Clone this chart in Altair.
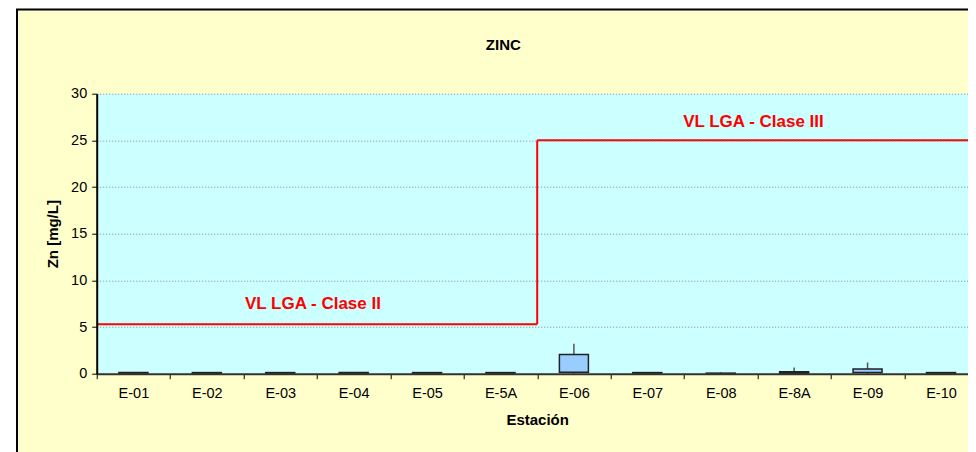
import altair as alt
import pandas as pd

# ---- data ----
stations = ["E-01", "E-02", "E-03", "E-04", "E-05", "E-5A",
            "E-06", "E-07", "E-08", "E-8A", "E-09", "E-10"]
w_min = [0.0, 0.0, 0.0, 0.0, 0.0, 0.0, 0.0, 0.0, 0.0, 0.0, 0.0, 0.0]
q1 = [0.0, 0.0, 0.0, 0.0, 0.0, 0.0, 0.15, 0.0, 0.0, 0.05, 0.12, 0.0]
q3 = [0.12, 0.12, 0.12, 0.12, 0.12, 0.12, 2.05, 0.12, 0.06, 0.22, 0.5, 0.12]
w_max = [0.12, 0.12, 0.12, 0.12, 0.12, 0.12, 3.2, 0.12, 0.14, 0.65, 1.2, 0.12]

# limit (step) line segments
seg_x_start = ["E-01", "E-06", "E-06"]
seg_x_end = ["E-5A", "E-5A", "E-10"]
seg_y_start = [5.3, 5.3, 25.0]
seg_y_end = [5.3, 25.0, 25.0]

label_text = ["VL LGA - Clase II", "VL LGA - Clase III"]
label_station = ["E-04", "E-8A"]
label_y = [7.5, 27.0]

y_ticks = [0, 5, 10, 15, 20, 25, 30]

box_df = pd.DataFrame({"station": stations, "lo": w_min, "q1": q1, "q3": q3, "hi": w_max})
seg_df = pd.DataFrame({"xs": seg_x_start, "xe": seg_x_end, "ys": seg_y_start, "ye": seg_y_end})
lab_df = pd.DataFrame({"text": label_text, "station": label_station, "y": label_y})

FONT = "Liberation Sans"
PAD_L, PAD_T, PAD_B = 88.7, 85.7, 78
W, H = 871.3, 280          # visible plot box (the last band runs past the page edge)
RANGE_W = 881              # full extent of the 12 category bands

xscale = alt.Scale(domain=stations, paddingInner=0, paddingOuter=0, range=[0, RANGE_W])
yscale = alt.Scale(domain=[0, 30], nice=False)

x_axis = alt.Axis(title="Estación", tickBand="extent", labelAngle=0, labelFontSize=14.5,
                  labelColor="#000", titleFontSize=15, titleFontWeight="bold", titleColor="#000",
                  tickSize=5, tickColor="#000", domainColor="#333", domainWidth=2,
                  labelPadding=8, titlePadding=12, grid=False, zindex=1)
y_axis = alt.Axis(title="Zn [mg/L]", values=y_ticks, labelFontSize=14.5, labelColor="#000",
                  titleFontSize=15, titleFontWeight="bold", titleColor="#000",
                  tickSize=5, tickColor="#000", domainColor="#000", domainWidth=2,
                  labelPadding=5, titlePadding=10, grid=True, gridColor="#888",
                  gridDash=[1, 2], gridWidth=1, zindex=1)

one = alt.Data(values=[{}])

frame = alt.Chart(one).mark_rect(fill="#FFFFCC", stroke="#000", strokeWidth=2, clip=False).encode(
    x=alt.value(-79.7), x2=alt.value(RANGE_W + 40), y=alt.value(-84.2), y2=alt.value(H + 120))
plot_bg = alt.Chart(one).mark_rect(fill="#CCFFFF", clip=False).encode(
    x=alt.value(0), x2=alt.value(RANGE_W), y=alt.value(0), y2=alt.value(H))

whisk = alt.Chart(box_df).mark_rule(color="#555", strokeWidth=1.5).encode(
    x=alt.X("station:N", scale=xscale, axis=x_axis, sort=stations),
    y=alt.Y("lo:Q", scale=yscale, axis=y_axis),
    y2="hi:Q")
boxes = alt.Chart(box_df).mark_bar(size=29, fill="#99CCFF", stroke="#222", strokeWidth=1.5).encode(
    x=alt.X("station:N", scale=xscale, axis=x_axis, sort=stations),
    y=alt.Y("q1:Q", scale=yscale, axis=y_axis),
    y2="q3:Q")
limits = alt.Chart(seg_df).mark_rule(color="#FF0000", strokeWidth=2, clip=False).encode(
    x=alt.X("xs:N", scale=xscale, axis=x_axis, bandPosition=0),
    x2=alt.X2("xe", bandPosition=1),
    y=alt.Y("ys:Q", scale=yscale, axis=y_axis),
    y2="ye:Q")
labels = alt.Chart(lab_df).mark_text(color="#FF0000", fontWeight="bold", fontSize=17,
                                     align="center", baseline="middle", dx=-4).encode(
    x=alt.X("station:N", scale=xscale, axis=x_axis, bandPosition=0),
    y=alt.Y("y:Q", scale=yscale, axis=y_axis),
    text="text:N")

chart = alt.layer(frame, plot_bg, whisk, boxes, limits, labels).properties(
    width=W, height=H,
    title=alt.TitleParams("ZINC", fontSize=15, fontWeight="bold", color="#000", font=FONT,
                          anchor="middle", dx=-29, offset=-45),
    padding={"left": PAD_L, "top": PAD_T, "right": 0, "bottom": PAD_B},
    autosize=alt.AutoSizeParams(type="none"),
    background="white",
).configure(font=FONT).configure_view(stroke=None)

chart.save("out.html", embed_options={"renderer": "svg", "actions": False})
